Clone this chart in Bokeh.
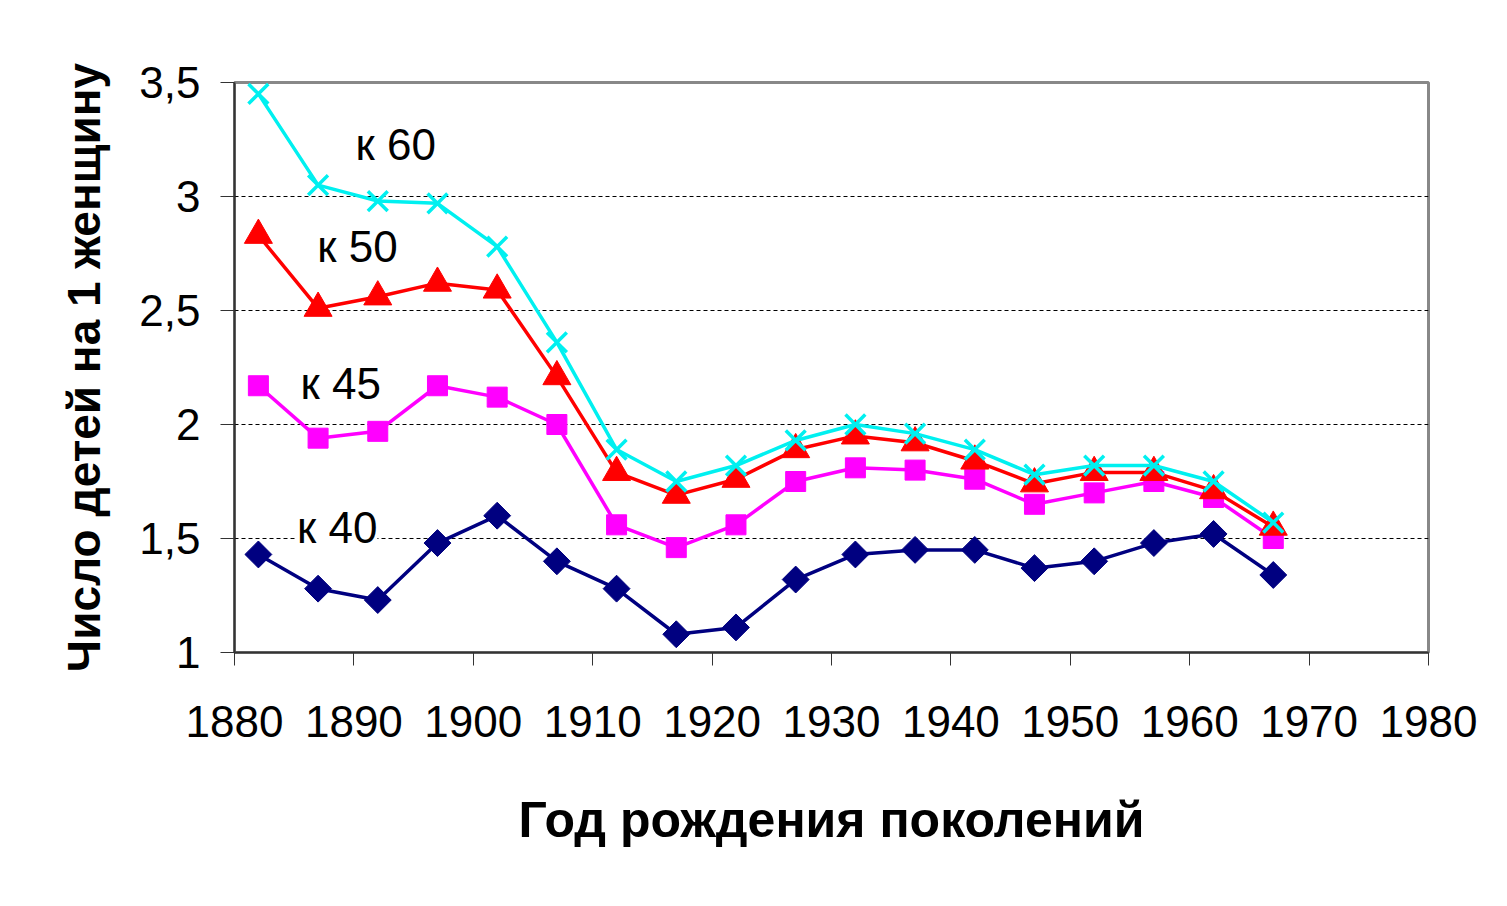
import numpy as np
from bokeh.plotting import figure
from bokeh.models import Label, FixedTicker, Range1d
from bokeh.embed import file_html
from bokeh.resources import INLINE

years = [1882, 1887, 1892, 1897, 1902, 1907, 1912, 1917, 1922, 1927,
         1932, 1937, 1942, 1947, 1952, 1957, 1962, 1967]
k40 = [1.43, 1.28, 1.23, 1.48, 1.60, 1.40, 1.28, 1.08, 1.11, 1.32,
       1.43, 1.45, 1.45, 1.37, 1.40, 1.48, 1.52, 1.34]
k45 = [2.17, 1.94, 1.97, 2.17, 2.12, 2.00, 1.56, 1.46, 1.56, 1.75,
       1.81, 1.80, 1.76, 1.65, 1.70, 1.75, 1.68, 1.50]
k50 = [2.83, 2.51, 2.56, 2.62, 2.59, 2.21, 1.79, 1.69, 1.76, 1.89,
       1.95, 1.92, 1.84, 1.74, 1.79, 1.79, 1.71, 1.55]
k60 = [3.45, 3.05, 2.98, 2.97, 2.78, 2.36, 1.89, 1.75, 1.82, 1.93,
       2.00, 1.96, 1.89, 1.78, 1.82, 1.82, 1.75, 1.57]

series_names = ["к 40", "к 45", "к 50", "к 60"]
x_ticks = [1880, 1890, 1900, 1910, 1920, 1930, 1940, 1950, 1960, 1970, 1980]
y_ticks = [1, 1.5, 2, 2.5, 3, 3.5]
y_tick_labels = ["1", "1,5", "2", "2,5", "3", "3,5"]
x_title = "Год рождения поколений"
y_title = "Число детей на 1 женщину"

FONT = "Liberation Sans"

p = figure(width=1491, height=890, output_backend="svg", toolbar_location=None,
           x_range=Range1d(1880, 1980), y_range=Range1d(1, 3.5),
           min_border_left=234, min_border_right=63, min_border_top=82,
           min_border_bottom=238)
p.background_fill_color = "white"
p.border_fill_color = "white"
p.outline_line_color = "#888888"
p.outline_line_width = 3

# grid
p.xgrid.grid_line_color = None
p.ygrid.ticker = FixedTicker(ticks=[1.5, 2, 2.5, 3])
p.ygrid.grid_line_color = "black"
p.ygrid.grid_line_dash = "4 3"
p.ygrid.grid_line_width = 1

# axes
p.xaxis.ticker = FixedTicker(ticks=x_ticks)
p.yaxis.ticker = FixedTicker(ticks=y_ticks)
p.yaxis.major_label_overrides = {t: l for t, l in zip(y_ticks, y_tick_labels)}
for ax in (p.xaxis[0], p.yaxis[0]):
    ax.axis_line_color = "#333333"
    ax.axis_line_width = 2
    ax.major_tick_line_color = "#333333"
    ax.major_tick_line_width = 1
    ax.major_tick_in = 0
    ax.minor_tick_line_color = None
    ax.major_label_text_font = FONT
    ax.major_label_text_font_size = "44px"
    ax.major_label_text_color = "black"
    ax.axis_label_text_font = FONT
    ax.axis_label_text_font_style = "bold"
    ax.axis_label_text_color = "black"
p.xaxis.major_tick_out = 13
p.yaxis.major_tick_out = 14
p.xaxis.major_label_standoff = 40
p.yaxis.major_label_standoff = 20
p.xaxis.axis_label = x_title
p.yaxis.axis_label = y_title
p.xaxis.axis_label_text_font_size = "50px"
p.yaxis.axis_label_text_font_size = "46px"
p.xaxis.axis_label_standoff = 52
p.yaxis.axis_label_standoff = 26

# series
p.line(years, k40, line_color="#000080", line_width=3.5)
p.scatter(years, k40, marker="square", angle=np.pi / 4, size=19,
          fill_color="#000080", line_color="#000080")

p.line(years, k45, line_color="#FF00FF", line_width=3.5)
p.scatter(years, k45, marker="square", size=20,
          fill_color="#FF00FF", line_color="#FF00FF")

p.line(years, k50, line_color="#FF0000", line_width=3.5)
p.scatter(years, k50, marker="triangle", size=28,
          fill_color="#FF0000", line_color="#FF0000")

p.line(years, k60, line_color="#00F0F0", line_width=3.5)
p.scatter(years, k60, marker="x", size=28, line_color="#00F0F0", line_width=3.5)

# series labels
label_pos = [(1888.6, 1.55, True), (1888.9, 2.18, False),
             (1890.3, 2.78, False), (1893.5, 3.23, False)]
for name, (lx, ly, bg) in zip(series_names, label_pos):
    lab = Label(x=lx, y=ly, text=name, text_align="center", text_baseline="middle",
                text_font=FONT, text_font_size="44px", text_color="black")
    if bg:
        lab.background_fill_color = "white"
    p.add_layout(lab)

open("out.html", "w").write(file_html(p, INLINE))
